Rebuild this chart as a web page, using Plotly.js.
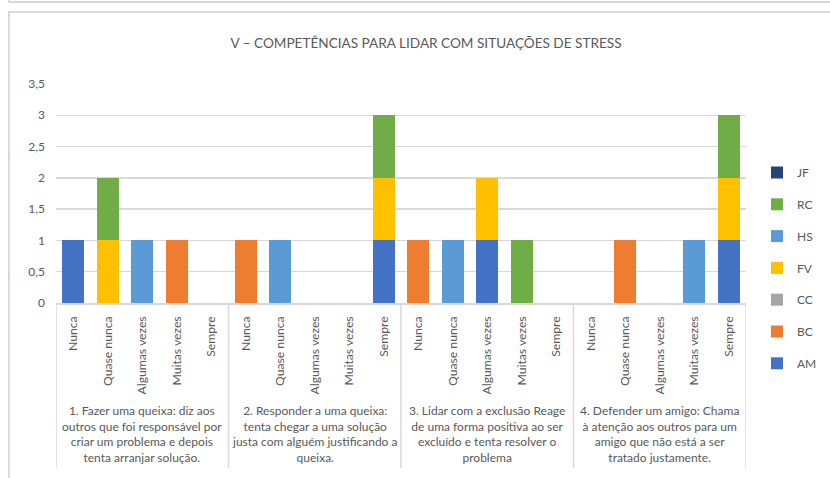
<!DOCTYPE html>
<html>
<head>
<meta charset="utf-8">
<script src="https://cdn.plot.ly/plotly-3.0.1.min.js"></script>
<style>
html,body{margin:0;padding:0;background:#fff;}
#wrap{position:relative;width:830px;height:478px;overflow:hidden;}
#chart{position:absolute;left:0;top:0;width:830px;height:478px;}
#frameTop{position:absolute;left:8px;top:0;width:840px;height:1px;border-left:2px solid #D9D9D9;border-bottom:2px solid #D9D9D9;pointer-events:none;}
#frame{position:absolute;left:8px;top:11px;width:840px;height:480px;border-left:2px solid #D9D9D9;border-top:2px solid #D9D9D9;pointer-events:none;}
</style>
</head>
<body>
<div id="wrap">
<div id="chart"></div>
<div id="frameTop"></div>
<div id="frame"></div>
</div>
<script>
// ---- data ----
const chartTitle = 'V – COMPETÊNCIAS PARA LIDAR COM SITUAÇÕES DE STRESS';
const frequencies = ['Nunca', 'Quase nunca', 'Algumas vezes', 'Muitas vezes', 'Sempre'];
const groupLabels = [
  '1. Fazer uma queixa: diz aos<br>outros que foi responsável por<br>criar um problema e depois<br>tenta arranjar solução.',
  '2. Responder a uma queixa:<br>tenta chegar a uma solução<br>justa com alguém justificando a<br>queixa.',
  '3. Lidar com a exclusão Reage<br>de uma forma positiva ao ser<br>excluído e tenta resolver o<br>problema',
  '4. Defender um amigo: Chama<br>à atenção aos outros para um<br>amigo que não está a ser<br>tratado justamente.'
];
const seriesNames = ['AM', 'BC', 'CC', 'FV', 'HS', 'RC', 'JF'];
// values per series: 4 groups x 5 frequencies
const AM = [1,0,0,0,0,  0,0,0,0,1,  0,0,1,0,0,  0,0,0,0,1];
const BC = [0,0,0,1,0,  1,0,0,0,0,  1,0,0,0,0,  0,1,0,0,0];
const CC = [0,0,0,0,0,  0,0,0,0,0,  0,0,0,0,0,  0,0,0,0,0];
const FV = [0,1,0,0,0,  0,0,0,0,1,  0,0,1,0,0,  0,0,0,0,1];
const HS = [0,0,1,0,0,  0,1,0,0,0,  0,1,0,0,0,  0,0,0,1,0];
const RC = [0,1,0,0,0,  0,0,0,0,1,  0,0,0,1,0,  0,0,0,0,1];
const JF = [0,0,0,0,0,  0,0,0,0,0,  0,0,0,0,0,  0,0,0,0,0];
const seriesValues = [AM, BC, CC, FV, HS, RC, JF];
const seriesColors = ['#4472C4', '#ED7D31', '#A5A5A5', '#FFC000', '#5B9BD5', '#70AD47', '#264478'];

// ---- build ----
const nCat = frequencies.length;
const positions = [];
const tickText = [];
groupLabels.forEach((g, gi) => frequencies.forEach((f, fi) => {
  positions.push(gi * nCat + fi);
  tickText.push(f);
}));

const traces = seriesNames.map((name, i) => ({
  type: 'bar',
  name: name,
  x: positions,
  y: seriesValues[i],
  marker: {color: seriesColors[i], line: {width: 0}},
  legendgroup: name,
  legendrank: seriesNames.length - i,
  hoverinfo: 'name+y'
}));

const TXT = '#595959';
const GRID = '#D9D9D9';
const FONT = 'Lato, "Open Sans", sans-serif';
const mt = 84, mb = 175, W = 830, H = 478;
const plotH = H - mt - mb;
const pxToPaper = px => -px / plotH; // px below the x axis

const shapes = [];
for (let gi = 0; gi <= groupLabels.length; gi++) {
  shapes.push({
    type: 'line', xref: 'x', yref: 'paper',
    x0: gi * nCat - 0.5, x1: gi * nCat - 0.5,
    y0: 0, y1: pxToPaper(165),
    line: {color: GRID, width: 1.5}
  });
}

const annotations = groupLabels.map((g, gi) => ({
  xref: 'x', yref: 'paper',
  x: gi * nCat + (nCat - 1) / 2, y: 0,
  yshift: -98, xanchor: 'center', yanchor: 'top',
  text: g, showarrow: false, align: 'center',
  font: {family: FONT, size: 12, color: TXT}
}));

const layout = {
  width: W, height: H,
  paper_bgcolor: 'rgba(0,0,0,0)', plot_bgcolor: 'rgba(0,0,0,0)',
  margin: {l: 56, r: 84, t: mt, b: mb},
  separators: ', ',
  barmode: 'stack',
  bargap: 0.36,
  font: {family: FONT, size: 12, color: TXT},
  title: {
    text: chartTitle, font: {family: FONT, size: 13.6, color: TXT},
    x: 426 / W, xref: 'container', xanchor: 'center',
    y: 1 - 43 / H, yref: 'container', yanchor: 'middle',
    automargin: false
  },
  xaxis: {
    type: 'linear', range: [-0.5, positions.length - 0.5],
    tickmode: 'array', tickvals: positions, ticktext: tickText,
    tickangle: -90, ticks: '', ticklabelstandoff: 7,
    tickfont: {family: FONT, size: 12.2, color: TXT},
    showgrid: false, zeroline: false,
    showline: true, linecolor: GRID, linewidth: 1.5,
    automargin: false, fixedrange: true
  },
  yaxis: {
    range: [0, 3.5], dtick: 0.5, tick0: 0,
    showgrid: true, gridcolor: GRID, gridwidth: 1.5,
    zeroline: false, showline: false, ticks: '',
    ticklabelstandoff: 10,
    tickfont: {family: FONT, size: 12, color: TXT},
    automargin: false, fixedrange: true
  },
  legend: {
    orientation: 'v', traceorder: 'grouped', tracegroupgap: 12.8,
    xref: 'container', x: 757 / W, xanchor: 'left',
    yref: 'container', y: 1 - 158 / H, yanchor: 'top',
    font: {family: FONT, size: 12, color: TXT},
    bgcolor: 'rgba(0,0,0,0)'
  },
  shapes: shapes,
  annotations: annotations
};

Plotly.newPlot('chart', traces, layout, {displayModeBar: false, staticPlot: true});
</script>
</body>
</html>
